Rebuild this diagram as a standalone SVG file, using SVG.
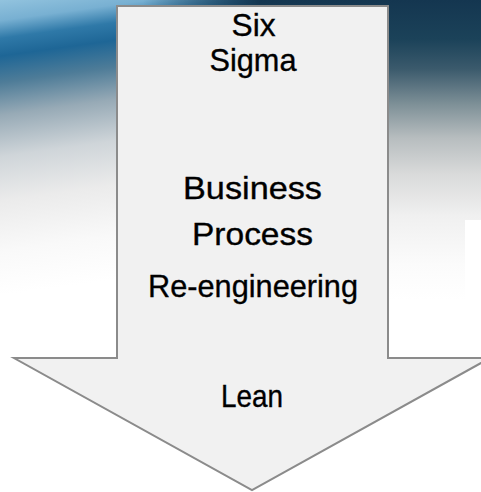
<svg xmlns="http://www.w3.org/2000/svg" width="481" height="492" viewBox="0 0 481 492">
  <defs>
    <linearGradient id="bgRight" x1="0" y1="0" x2="0" y2="300" gradientUnits="userSpaceOnUse">
      <stop offset="0" stop-color="#143650"/>
      <stop offset="0.13" stop-color="#1b4259"/>
      <stop offset="0.23" stop-color="#3b5a6c"/>
      <stop offset="0.35" stop-color="#7f9198"/>
      <stop offset="0.46" stop-color="#b7bdbf"/>
      <stop offset="0.58" stop-color="#d9dada"/>
      <stop offset="0.72" stop-color="#f0f0f0"/>
      <stop offset="0.88" stop-color="#fbfbfb"/>
      <stop offset="1" stop-color="#ffffff"/>
    </linearGradient>
    <linearGradient id="bgLeft" x1="0" y1="0" x2="40" y2="290" gradientUnits="userSpaceOnUse">
      <stop offset="0" stop-color="#92c3de"/>
      <stop offset="0.07" stop-color="#78b0d2"/>
      <stop offset="0.13" stop-color="#2f79a8"/>
      <stop offset="0.19" stop-color="#1e6696"/>
      <stop offset="0.28" stop-color="#4e7c98"/>
      <stop offset="0.39" stop-color="#97aab6"/>
      <stop offset="0.53" stop-color="#cfd5d9"/>
      <stop offset="0.68" stop-color="#ebebeb"/>
      <stop offset="0.85" stop-color="#f9f9f9"/>
      <stop offset="1" stop-color="#ffffff"/>
    </linearGradient>
    <linearGradient id="fadeX" x1="0" y1="0" x2="1" y2="0">
      <stop offset="0" stop-color="#fff" stop-opacity="1"/>
      <stop offset="0.55" stop-color="#fff" stop-opacity="1"/>
      <stop offset="1" stop-color="#fff" stop-opacity="0"/>
    </linearGradient>
    <mask id="leftMask" maskUnits="userSpaceOnUse" x="0" y="0" width="481" height="492">
      <rect x="0" y="0" width="260" height="300" fill="url(#fadeX)"/>
    </mask>
    <style>
      .lbl { font-family: "Liberation Sans", Arial, sans-serif; font-size: 32px; fill: #000; stroke: #000; stroke-width: 0.35; text-anchor: middle; }
      .arrow { fill: #f1f1f1; stroke: #8b8b8b; stroke-width: 2; stroke-linejoin: miter; }
    </style>
  </defs>

  <g id="background">
    <rect x="0" y="0" width="481" height="492" fill="#ffffff"/>
    <rect x="0" y="0" width="481" height="300" fill="url(#bgRight)"/>
    <rect x="0" y="0" width="260" height="300" fill="url(#bgLeft)" mask="url(#leftMask)"/>
    <rect x="465" y="220" width="16" height="80" fill="#ffffff"/>
  </g>

  <g id="arrow">
    <path class="arrow" d="M117,6 L388,6 L388,358 L490,358 L252,490 L14,358 L117,358 Z"/>
  </g>

  <g id="node-six-sigma">
    <text class="lbl" x="253.5" y="36" textLength="44" lengthAdjust="spacingAndGlyphs">Six</text>
    <text class="lbl" x="253" y="71" textLength="87" lengthAdjust="spacingAndGlyphs">Sigma</text>
  </g>

  <g id="node-bpr">
    <text class="lbl" x="252.5" y="199" textLength="139" lengthAdjust="spacingAndGlyphs">Business</text>
    <text class="lbl" x="252.5" y="245" textLength="121" lengthAdjust="spacingAndGlyphs">Process</text>
    <text class="lbl" x="253" y="297" textLength="210" lengthAdjust="spacingAndGlyphs">Re-engineering</text>
  </g>

  <g id="node-lean">
    <text class="lbl" x="252" y="407" textLength="62" lengthAdjust="spacingAndGlyphs">Lean</text>
  </g>

  <g id="connectors"></g>
</svg>
